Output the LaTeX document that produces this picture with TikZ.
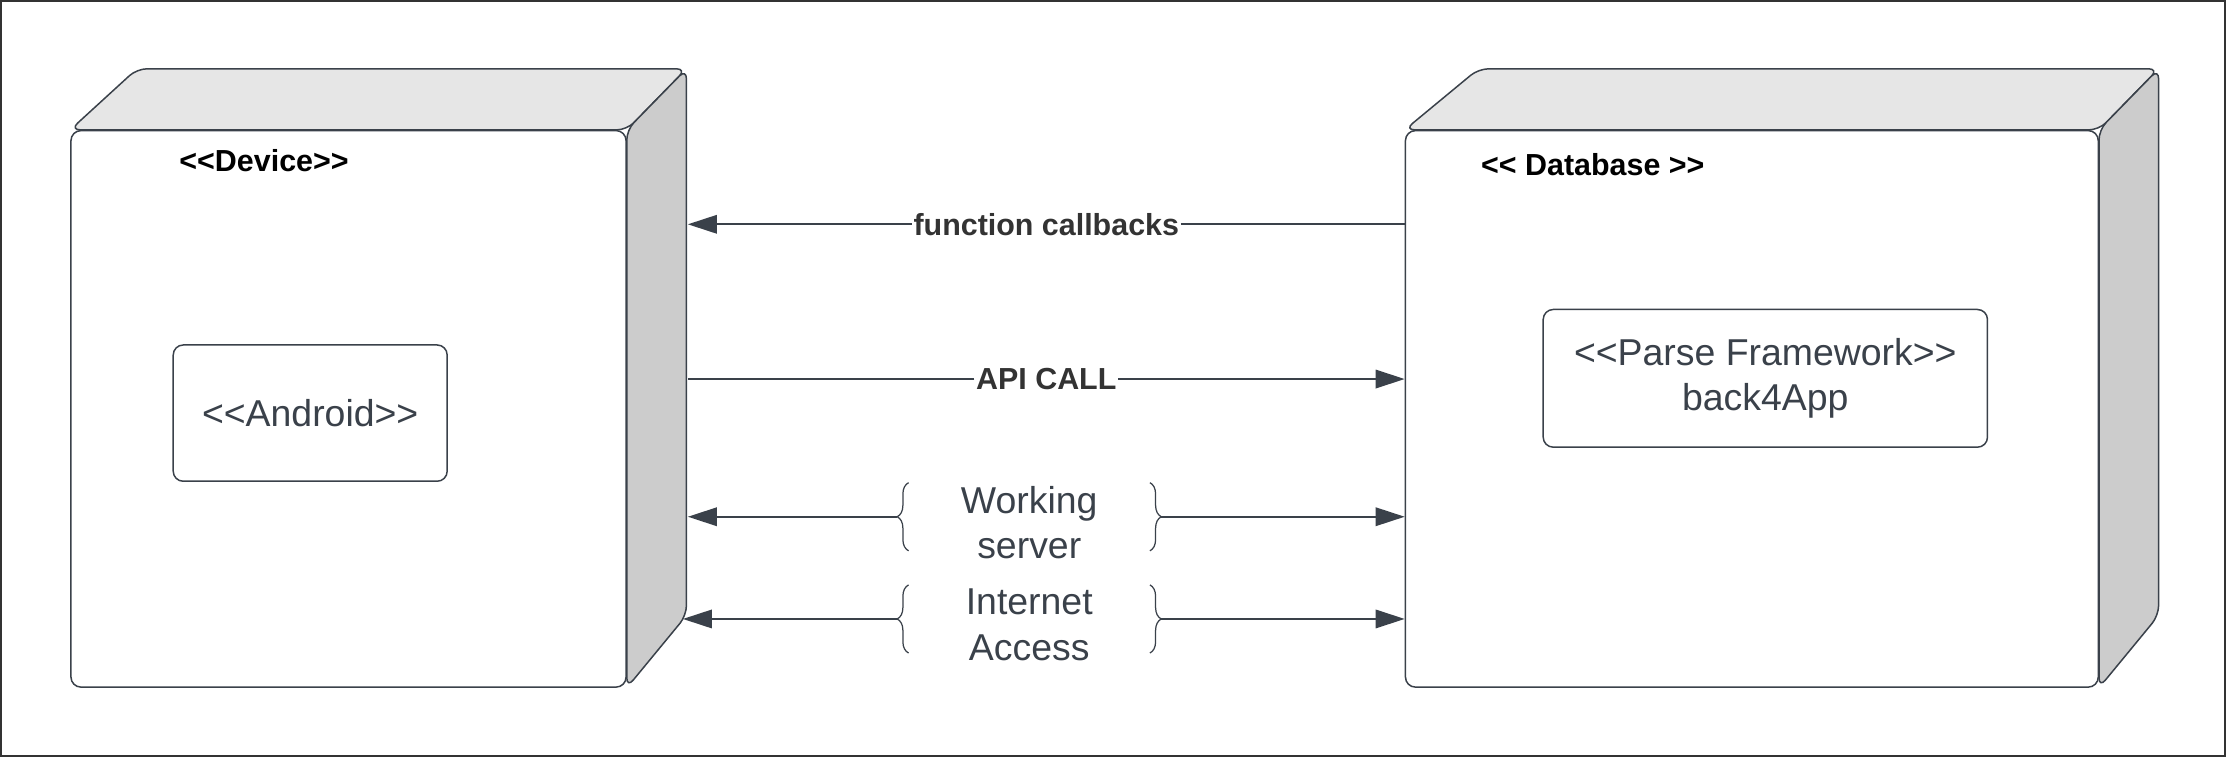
\documentclass[tikz,border=0pt]{standalone}
\usepackage{fontspec}
\setmainfont{Liberation Sans}
\usetikzlibrary{arrows.meta,fit,decorations.pathreplacing}
\definecolor{slate}{RGB}{58,65,74}
\definecolor{lidgray}{RGB}{230,230,230}
\definecolor{flankgray}{RGB}{204,204,204}
\tikzstyle{front}=[draw=slate, fill=white, rounded corners=4pt,
    line width=0.6pt, inner sep=0pt]
\tikzstyle{lid}=[draw=slate, fill=lidgray, rounded corners=4pt, line width=0.6pt]
\tikzstyle{flank}=[draw=slate, fill=flankgray, rounded corners=4pt, line width=0.6pt]
\tikzstyle{comp}=[draw=slate, rounded corners=4pt, line width=0.6pt, inner sep=0pt,
    align=center, text=slate, font=\fontsize{15}{18.2}\selectfont]
\tikzstyle{stereo}=[text=black, font=\bfseries\fontsize{12.2}{14}\selectfont]
\tikzstyle{msg}=[fill=white, inner sep=0.5pt, text=black!80,
    font=\bfseries\fontsize{12.2}{14}\selectfont]
\tikzstyle{brk}=[align=center, text=slate, font=\fontsize{15}{18.2}\selectfont]
\tikzstyle{link}=[draw=slate, line width=0.8pt]
\tikzstyle{arr}=[link, -{Triangle[length=0.41cm,width=0.26cm]}]
\tikzstyle{brc}=[draw=slate, line width=0.5pt, decorate,
    decoration={brace, amplitude=0.16cm}]

\begin{document}
\begin{tikzpicture}[x=0.02cm, y=-0.02cm]
  \useasboundingbox (0,0) rectangle (1568,533);
  \draw[line width=0.8pt, draw=black!80] (0.7,0.7) rectangle (1567.3,532.3);

  % device node
  \node[front, fit={(50,92) (441,484)}] (dev) {};
  \draw[lid] (dev.north west) -- ([shift={(47,-43)}]dev.north west)
     -- ([shift={(42,-43)}]dev.north east) -- (dev.north east) -- cycle;
  \draw[flank] (dev.north east) -- ([shift={(42,-43)}]dev.north east)
     -- ([shift={(42,-51)}]dev.south east) -- (dev.south east) -- cycle;
  \node[stereo] at (186,113) (devlbl) {<{}<Device>{}>};
  \node[comp, minimum width=3.86cm, minimum height=1.92cm] at (218.5,291) (android)
     {<{}<Android>{}>};
  \coordinate (devR) at ([shift={(43,0)}]dev.east);

  % database node
  \node[front, fit={(990,92) (1478,484)}] (db) {};
  \draw[lid] (db.north west) -- ([shift={(52,-43)}]db.north west)
     -- ([shift={(42,-43)}]db.north east) -- (db.north east) -- cycle;
  \draw[flank] (db.north east) -- ([shift={(42,-43)}]db.north east)
     -- ([shift={(42,-51)}]db.south east) -- (db.south east) -- cycle;
  \node[stereo] at (1122,116) (dblbl) {<{}< Database >{}>};
  \node[comp, minimum width=6.26cm, minimum height=1.94cm] at (1243.5,266.5) (parse)
     {<{}<Parse Framework>{}>\\back4App};

  % messages
  \node[msg] at (737,158) (fc) {function callbacks};
  \draw[arr] (fc) -- (devR |- fc);
  \draw[link] (fc) -- (db.west |- fc);

  \node[msg] at (737,267) (api) {API CALL};
  \draw[link] (api) -- (devR |- api);
  \draw[arr] (api) -- (db.west |- api);

  \node[brk] at (725,368) (ws) {Working\\server};
  \draw[brc] ([shift={(-85,20)}]ws.center) -- ([shift={(-85,-28)}]ws.center);
  \draw[brc] ([shift={(85,-28)}]ws.center) -- ([shift={(85,20)}]ws.center);
  \coordinate (wsL) at ([shift={(-93,-4)}]ws.center);
  \coordinate (wsR) at ([shift={(93,-4)}]ws.center);
  \draw[arr] (wsL) -- (devR |- wsL);
  \draw[arr] (wsR) -- (db.west |- wsR);

  \node[brk] at (725,440) (ia) {Internet\\Access};
  \draw[brc] ([shift={(-85,20)}]ia.center) -- ([shift={(-85,-28)}]ia.center);
  \draw[brc] ([shift={(85,-28)}]ia.center) -- ([shift={(85,20)}]ia.center);
  \coordinate (iaL) at ([shift={(-93,-4)}]ia.center);
  \coordinate (iaR) at ([shift={(93,-4)}]ia.center);
  \draw[arr] (iaL) -- ([xshift=-2]devR |- iaL);
  \draw[arr] (iaR) -- (db.west |- iaR);
\end{tikzpicture}
\end{document}
